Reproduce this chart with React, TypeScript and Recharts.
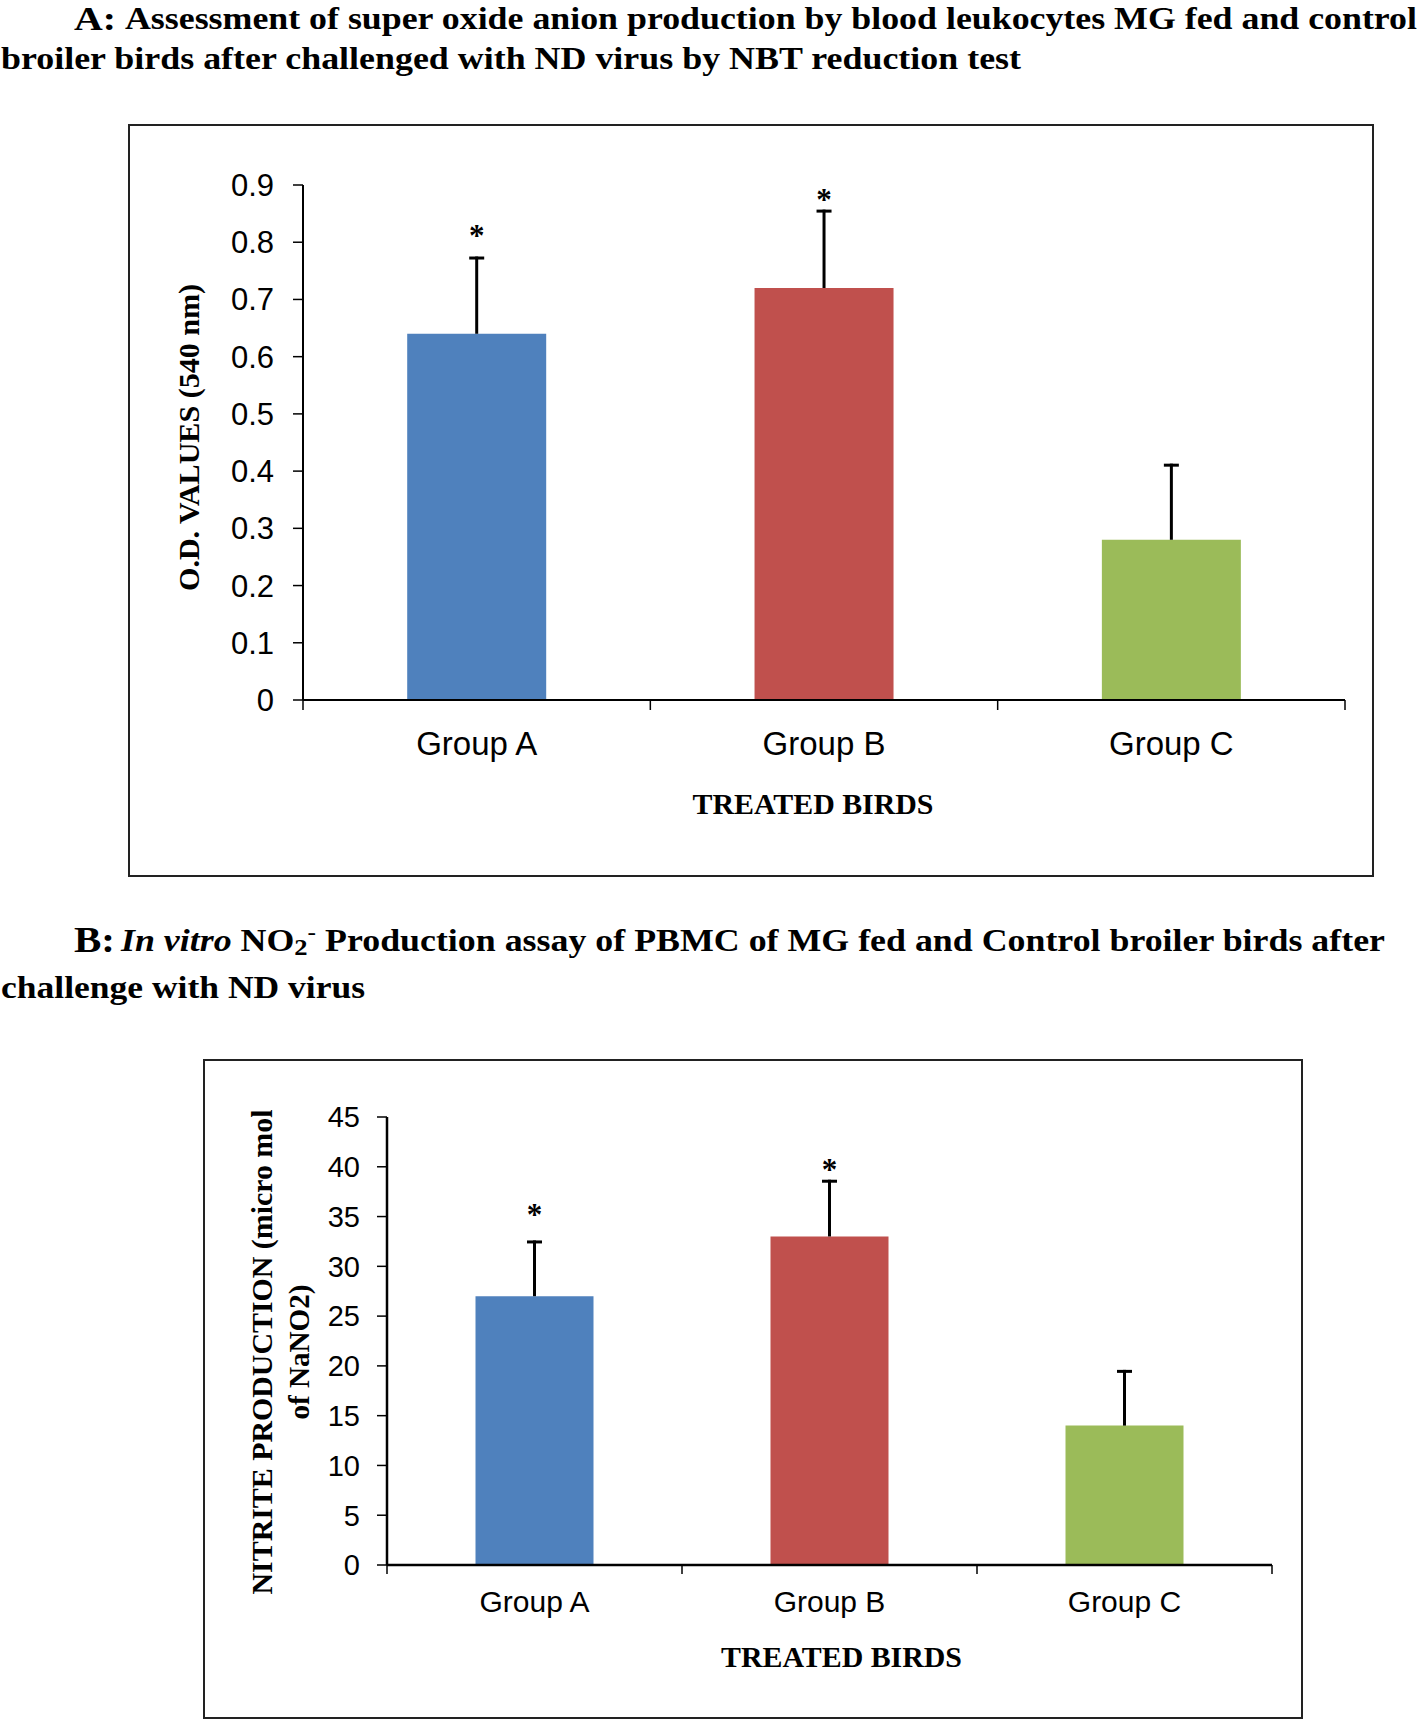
import React from 'react';
import { BarChart, Bar, XAxis, YAxis, Cell, LabelList, Label } from 'recharts';

// ---------- data ----------
const GROUPS = ['Group A', 'Group B', 'Group C'];
const BAR_COLORS = ['#4F81BD', '#C0504D', '#9BBB59'];

const OD_MEANS = [0.64, 0.72, 0.28];
const OD_ERRORS = [0.135, 0.137, 0.133];
const OD_MARKS = ['*', '*', ''];
const OD_TICKS = [0, 0.1, 0.2, 0.3, 0.4, 0.5, 0.6, 0.7, 0.8, 0.9];

const NO2_MEANS = [27, 33, 14];
const NO2_ERRORS = [5.6, 5.7, 5.6];
const NO2_MARKS = ['*', '*', ''];
const NO2_TICKS = [0, 5, 10, 15, 20, 25, 30, 35, 40, 45];

const odData = GROUPS.map((group, i) => ({ group, mean: OD_MEANS[i], err: OD_ERRORS[i], mark: OD_MARKS[i] }));
const no2Data = GROUPS.map((group, i) => ({ group, mean: NO2_MEANS[i], err: NO2_ERRORS[i], mark: NO2_MARKS[i] }));

// ---------- styles ----------
const SANS = '"Liberation Sans", Arial, sans-serif';
const SERIF = '"Liberation Serif", "Times New Roman", serif';
const STAR_LIFT_A = [11, 0, 0];
const STAR_LIFT_B = [15, 0, 0];

const ErrorWhisker = (props: any) => {
  const { x, y, width, height } = props;
  if (x == null || y == null || !width || height == null) return null;
  const cx = x + width / 2;
  return (
    <g>
      <line x1={cx} x2={cx} y1={y} y2={y + height} stroke="#000" strokeWidth={3} />
      <line x1={cx - 7.5} x2={cx + 7.5} y1={y + 1.5} y2={y + 1.5} stroke="#000" strokeWidth={3} />
    </g>
  );
};

const makeStar = (lifts: number[]) => (props: any) => {
  const vb = props.viewBox || props;
  const { value, index } = props;
  if (!value) return null;
  return (
    <text
      x={vb.x + vb.width / 2}
      y={vb.y - (lifts[index] ?? 0)}
      textAnchor="middle"
      fontFamily={SERIF}
      fontWeight="bold"
      fontSize={31}
      fill="#000"
    >
      {value}
    </text>
  );
};

const makeCategoryTick = (drop: number, fontSize: number, tickLen: number, fallbackHalf: number) => (props: any) => {
  const { x, y, payload, index } = props;
  const off = payload && typeof payload.offset === 'number' && payload.offset > 5 ? payload.offset : fallbackHalf;
  const last = index === GROUPS.length - 1;
  return (
    <g>
      <line x1={x - off} x2={x - off} y1={y} y2={y + tickLen} stroke="#000" strokeWidth={1.5} />
      {last && <line x1={x + off} x2={x + off} y1={y} y2={y + tickLen} stroke="#000" strokeWidth={1.5} />}
      <text x={x} y={y + drop} textAnchor="middle" fontFamily={SANS} fontSize={fontSize} fill="#000">
        {payload.value}
      </text>
    </g>
  );
};

const ChartA = () => (
  <BarChart
    width={1246}
    height={753}
    data={odData}
    margin={{ top: 61, right: 29, bottom: 0, left: 0 }}
    barCategoryGap="30%"
  >
    <XAxis
      dataKey="group"
      type="category"
      height={177}
      interval={0}
      tickSize={0}
      tickMargin={0}
      tickLine={false}
      axisLine={{ stroke: '#000', strokeWidth: 2 }}
      tick={makeCategoryTick(55, 33, 10, 1042 / 6)}
    >
      <Label
        content={(p: any) => {
          const vb = p.viewBox;
          return (
            <text
              x={vb.x + vb.width / 2 - 11}
              y={vb.y + 114}
              textAnchor="middle"
              fontFamily={SERIF}
              fontWeight="bold"
              fontSize={29}
              fill="#000"
              textLength={241}
              lengthAdjust="spacingAndGlyphs"
            >
              TREATED BIRDS
            </text>
          );
        }}
      />
    </XAxis>
    <YAxis
      type="number"
      width={175}
      domain={[0, 0.9]}
      ticks={OD_TICKS}
      interval={0}
      tickSize={10}
      tickMargin={19}
      tickLine={{ stroke: '#000', strokeWidth: 1.5 }}
      axisLine={{ stroke: '#000', strokeWidth: 2 }}
      tick={{ fill: '#000', fontFamily: SANS, fontSize: 31 }}
    >
      <Label
        content={(p: any) => {
          const vb = p.viewBox;
          const cx = vb.x + 71;
          const cy = vb.y + vb.height / 2 - 5;
          return (
            <text
              x={cx}
              y={cy}
              transform={`rotate(-90 ${cx} ${cy})`}
              textAnchor="middle"
              fontFamily={SERIF}
              fontWeight="bold"
              fontSize={29}
              fill="#000"
              textLength={307}
              lengthAdjust="spacingAndGlyphs"
            >
              O.D. VALUES (540 nm)
            </text>
          );
        }}
      />
    </YAxis>
    <Bar dataKey="mean" stackId="s" isAnimationActive={false}>
      {odData.map((d, i) => (
        <Cell key={d.group} fill={BAR_COLORS[i]} />
      ))}
    </Bar>
    <Bar dataKey="err" stackId="s" isAnimationActive={false} shape={ErrorWhisker}>
      <LabelList dataKey="mark" content={makeStar(STAR_LIFT_A)} />
    </Bar>
  </BarChart>
);

const frameLine = { stroke: '#868686', strokeWidth: 2.5 };

const ChartB = () => (
  <BarChart
    width={1100}
    height={660}
    data={no2Data}
    margin={{ top: 58, right: 31, bottom: 0, left: 0 }}
    barCategoryGap="30%"
  >
    <XAxis
      xAxisId="frame"
      dataKey="group"
      orientation="top"
      height={0}
      tick={false}
      tickLine={false}
      axisLine={frameLine}
    />
    <YAxis
      yAxisId="frame"
      orientation="right"
      width={0}
      domain={[0, 45]}
      tick={false}
      tickLine={false}
      axisLine={frameLine}
    />
    <XAxis
      dataKey="group"
      type="category"
      height={154}
      interval={0}
      tickSize={0}
      tickMargin={0}
      tickLine={false}
      axisLine={{ stroke: '#000', strokeWidth: 2.5 }}
      tick={makeCategoryTick(47, 30, 9, 885 / 6)}
    >
      <Label
        content={(p: any) => {
          const vb = p.viewBox;
          return (
            <text
              x={vb.x + vb.width / 2 + 12}
              y={vb.y + 102}
              textAnchor="middle"
              fontFamily={SERIF}
              fontWeight="bold"
              fontSize={29}
              fill="#000"
              textLength={241}
              lengthAdjust="spacingAndGlyphs"
            >
              TREATED BIRDS
            </text>
          );
        }}
      />
    </XAxis>
    <YAxis
      type="number"
      width={184}
      domain={[0, 45]}
      ticks={NO2_TICKS}
      interval={0}
      tickSize={10}
      tickMargin={17}
      tickLine={{ stroke: '#000', strokeWidth: 1.5 }}
      axisLine={{ stroke: '#000', strokeWidth: 2.5 }}
      tick={{ fill: '#000', fontFamily: SANS, fontSize: 29 }}
    >
      <Label
        content={(p: any) => {
          const vb = p.viewBox;
          const cy = vb.y + vb.height / 2 + 11;
          const x1 = vb.x + 69;
          const x2 = vb.x + 106;
          return (
            <g>
              <text
                x={x1}
                y={cy}
                transform={`rotate(-90 ${x1} ${cy})`}
                textAnchor="middle"
                fontFamily={SERIF}
                fontWeight="bold"
                fontSize={29}
                fill="#000"
                textLength={485}
                lengthAdjust="spacingAndGlyphs"
              >
                NITRITE PRODUCTION (micro mol
              </text>
              <text
                x={x2}
                y={cy}
                transform={`rotate(-90 ${x2} ${cy})`}
                textAnchor="middle"
                fontFamily={SERIF}
                fontWeight="bold"
                fontSize={29}
                fill="#000"
                textLength={135}
                lengthAdjust="spacingAndGlyphs"
              >
                of NaNO2)
              </text>
            </g>
          );
        }}
      />
    </YAxis>
    <Bar dataKey="mean" stackId="s" isAnimationActive={false}>
      {no2Data.map((d, i) => (
        <Cell key={d.group} fill={BAR_COLORS[i]} />
      ))}
    </Bar>
    <Bar dataKey="err" stackId="s" isAnimationActive={false} shape={ErrorWhisker}>
      <LabelList dataKey="mark" content={makeStar(STAR_LIFT_B)} />
    </Bar>
  </BarChart>
);

const titleText = { fontFamily: SERIF, fontWeight: 'bold' as const, fill: '#000' };

export default function App() {
  return (
    <div
      style={{
        position: 'absolute',
        left: 0,
        top: 0,
        width: 1418,
        height: 1721,
        background: '#fff',
        overflow: 'hidden',
      }}
    >
      {/* Title A */}
      <svg width={1418} height={90} style={{ position: 'absolute', left: 0, top: 0 }}>
        <text x={74} y={30} {...titleText} fontSize={33} textLength={42} lengthAdjust="spacingAndGlyphs">A:</text>
        <text x={125} y={29} {...titleText} fontSize={31} textLength={1292} lengthAdjust="spacingAndGlyphs">
          Assessment of super oxide anion production by blood leukocytes MG fed and control
        </text>
        <text x={1} y={69} {...titleText} fontSize={31} textLength={1020} lengthAdjust="spacingAndGlyphs">
          broiler birds after challenged with ND virus by NBT reduction test
        </text>
      </svg>

      {/* Chart A */}
      <div
        style={{
          position: 'absolute',
          left: 128,
          top: 124,
          width: 1246,
          height: 753,
          border: '2px solid #222',
          boxSizing: 'border-box',
        }}
      />
      <div style={{ position: 'absolute', left: 128, top: 124 }}>
        <ChartA />
      </div>

      {/* Title B */}
      <svg width={1418} height={120} style={{ position: 'absolute', left: 0, top: 900 }}>
        <text x={74} y={52} {...titleText} fontSize={36} textLength={41} lengthAdjust="spacingAndGlyphs">B:</text>
        <text x={121} y={51} {...titleText} fontSize={31} textLength={1264} lengthAdjust="spacingAndGlyphs">
          <tspan fontStyle="italic">In vitro</tspan>
          <tspan> NO</tspan>
          <tspan fontSize={23} dy={4}>2</tspan>
          <tspan fontSize={22} dy={-16}>-</tspan>
          <tspan dy={12}> Production assay of PBMC of MG fed and Control broiler birds after</tspan>
        </text>
        <text x={1} y={98} {...titleText} fontSize={31} textLength={364} lengthAdjust="spacingAndGlyphs">
          challenge with ND virus
        </text>
      </svg>

      {/* Chart B */}
      <div
        style={{
          position: 'absolute',
          left: 203,
          top: 1059,
          width: 1100,
          height: 660,
          border: '2px solid #222',
          boxSizing: 'border-box',
        }}
      />
      <div style={{ position: 'absolute', left: 203, top: 1059 }}>
        <ChartB />
      </div>
    </div>
  );
}
